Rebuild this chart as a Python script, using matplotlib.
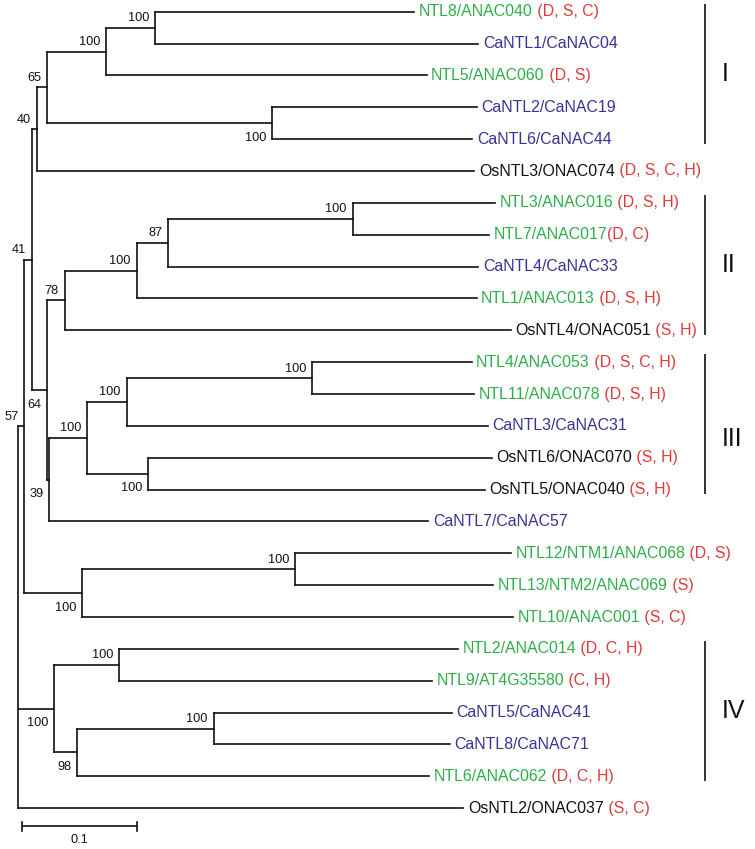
import matplotlib
matplotlib.use("Agg")
import matplotlib.pyplot as plt
from matplotlib.collections import LineCollection

# ---------------- data ----------------
# Tree topology, bootstrap support and branch lengths (substitutions/site)
newick = (
    "(((((((NTL8/ANAC040:0.2255,CaNTL1/CaNAC04:0.2811)100:0.0426,"
    "NTL5/ANAC060:0.2789)100:0.0513,"
    "(CaNTL2/CaNAC19:0.1777,CaNTL6/CaNAC44:0.1739)100:0.1959)65:0.00896,"
    "OsNTL3/ONAC074:0.3805)40:0.00435,"
    "(((((NTL3/ANAC016:0.1237,NTL7/ANAC017:0.1185)100:0.1603,"
    "CaNTL4/CaNAC33:0.2696)87:0.0275,NTL1/ANAC013:0.2957)100:0.0626,"
    "OsNTL4/ONAC051:0.3881)78:0.0154,"
    "((((NTL4/ANAC053:0.1386,NTL11/ANAC078:0.1406)100:0.1614,"
    "CaNTL3/CaNAC31:0.3144)100:0.0343,"
    "(OsNTL6/ONAC070:0.2991,OsNTL5/ONAC040:0.2928)100:0.0530)100:0.0330,"
    "CaNTL7/CaNAC57:0.3296)39:0.0020)64:0.0133)41:0.00626,"
    "((NTL12/NTM1/ANAC068:0.1878,NTL13/NTM2/ANAC069:0.1724)100:0.1850,"
    "NTL10/ANAC001:0.3748)100:0.0503)57:0.00565,"
    "((NTL2/ANAC014:0.2950,NTL9/AT4G35580:0.2719)100:0.0563,"
    "((CaNTL5/CaNAC41:0.2070,CaNTL8/CaNAC71:0.2055)100:0.1186,"
    "NTL6/ANAC062:0.3061)98:0.0200)100:0.0316,"
    "OsNTL2/ONAC037:0.3872);"
)

stress_tags = {
    "NTL8/ANAC040": " (D, S, C)",
    "NTL5/ANAC060": " (D, S)",
    "OsNTL3/ONAC074": " (D, S, C, H)",
    "NTL3/ANAC016": " (D, S, H)",
    "NTL7/ANAC017": "(D, C)",
    "NTL1/ANAC013": " (D, S, H)",
    "OsNTL4/ONAC051": " (S, H)",
    "NTL4/ANAC053": " (D, S, C, H)",
    "NTL11/ANAC078": " (D, S, H)",
    "OsNTL6/ONAC070": " (S, H)",
    "OsNTL5/ONAC040": " (S, H)",
    "NTL12/NTM1/ANAC068": " (D, S)",
    "NTL13/NTM2/ANAC069": " (S)",
    "NTL10/ANAC001": " (S, C)",
    "NTL2/ANAC014": " (D, C, H)",
    "NTL9/AT4G35580": " (C, H)",
    "NTL6/ANAC062": " (D, C, H)",
    "OsNTL2/ONAC037": " (S, C)",
}

clade_names = ["I", "II", "III", "IV"]
clade_first = ["NTL8/ANAC040", "NTL3/ANAC016", "NTL4/ANAC053", "NTL2/ANAC014"]
clade_last = ["CaNTL6/CaNAC44", "OsNTL4/ONAC051", "OsNTL5/ONAC040", "NTL6/ANAC062"]

scale_length = 0.1
scale_label = "0.1"

# ---------------- styles ----------------
GREEN = "#2eae4b"
BLUE = "#343494"
BLACK = "#111111"
RED = "#dd3b3b"
FONT = "Liberation Sans"
plt.rcParams["font.family"] = [FONT, "DejaVu Sans"]


def species_color(name):
    if name.startswith("Ca"):
        return BLUE
    if name.startswith("Os"):
        return BLACK
    return GREEN


# ---------------- parse newick ----------------
def parse(s):
    pos = 0

    def node():
        nonlocal pos
        n = {"children": [], "name": "", "support": "", "length": 0.0}
        if s[pos] == "(":
            pos += 1
            while True:
                n["children"].append(node())
                if s[pos] == ",":
                    pos += 1
                    continue
                if s[pos] == ")":
                    pos += 1
                    break
        start = pos
        while pos < len(s) and s[pos] not in ":,();":
            pos += 1
        label = s[start:pos]
        if n["children"]:
            n["support"] = label
        else:
            n["name"] = label
        if pos < len(s) and s[pos] == ":":
            pos += 1
            start = pos
            while s[pos] not in ",();":
                pos += 1
            n["length"] = float(s[start:pos])
        return n

    return node()


root = parse(newick)
leaves = []


def layout(n, depth):
    n["x"] = depth + n["length"]
    if not n["children"]:
        n["y"] = len(leaves)
        leaves.append(n)
    else:
        for c in n["children"]:
            layout(c, n["x"])
        n["y"] = (n["children"][0]["y"] + n["children"][-1]["y"]) / 2.0


layout(root, 0.0)
leaf_index = {lf["name"]: lf["y"] for lf in leaves}

# ---------------- figure ----------------
W, H, DPI = 755, 849, 100
fig = plt.figure(figsize=(W / DPI, H / DPI), dpi=DPI)
ax = fig.add_axes([0, 0, 1, 1])
ax.set_axis_off()

PX_PER_UNIT = 1150.0      # horizontal pixels per substitution unit
ROOT_PX = 18.0
ROW_PX = 31.86
TOP_PX = 11.7
ax.set_xlim(-ROOT_PX / PX_PER_UNIT, (W - ROOT_PX) / PX_PER_UNIT)
ax.set_ylim((H - TOP_PX) / ROW_PX, -TOP_PX / ROW_PX)

segs = []


def draw(n):
    if not n["children"]:
        return
    segs.append([(n["x"], n["children"][0]["y"]), (n["x"], n["children"][-1]["y"])])
    for i, c in enumerate(n["children"]):
        segs.append([(n["x"], c["y"]), (c["x"], c["y"])])
        if c["children"] and c["support"]:
            above = (i == 0)
            ax.annotate(c["support"], xy=(c["x"], c["y"]),
                        xytext=(-6, 6.5 if above else -17.5),
                        textcoords="offset pixels", ha="right", va="baseline",
                        fontsize=9.2, color=BLACK)
        draw(c)


draw(root)
ax.add_collection(LineCollection(segs, colors=BLACK, linewidths=1.2,
                                 capstyle="projecting", joinstyle="miter"))

# leaf labels
for lf in leaves:
    t = ax.annotate(lf["name"], xy=(lf["x"], lf["y"]), xytext=(4.5, 0),
                    textcoords="offset pixels", ha="left", va="center",
                    fontsize=11.4, color=species_color(lf["name"]))
    tag = stress_tags.get(lf["name"])
    if tag:
        ax.annotate(tag, xy=(1, 0), xycoords=t, xytext=(0, 0),
                    textcoords="offset pixels", ha="left", va="bottom",
                    fontsize=11.4, color=RED)

# clade bars
BAR_X = (705 - ROOT_PX) / PX_PER_UNIT
LABEL_X = (722 - ROOT_PX) / PX_PER_UNIT
label_shift = {"III": 0.45}
for name, first, last in zip(clade_names, clade_first, clade_last):
    y0 = leaf_index[first] - 0.25
    y1 = leaf_index[last] + 0.15
    ax.plot([BAR_X, BAR_X], [y0, y1], color=BLACK, lw=1.2, solid_capstyle="butt")
    ax.text(LABEL_X, (y0 + y1) / 2 + label_shift.get(name, 0.0), name,
            ha="left", va="center", fontsize=18, color=BLACK)

# scale bar
sb_x0 = (22 - ROOT_PX) / PX_PER_UNIT
sb_y = (826 - TOP_PX) / ROW_PX
tick = 4.5 / ROW_PX
ax.plot([sb_x0, sb_x0 + scale_length], [sb_y, sb_y], color=BLACK, lw=1.2)
for xx in (sb_x0, sb_x0 + scale_length):
    ax.plot([xx, xx], [sb_y - tick, sb_y + tick], color=BLACK, lw=1.2)
ax.annotate(scale_label, xy=(sb_x0 + scale_length / 2, sb_y), xytext=(0, -14),
            textcoords="offset pixels", ha="center", va="center", fontsize=9.2,
            color=BLACK)

fig.savefig("out.png", dpi=DPI, facecolor="white")
